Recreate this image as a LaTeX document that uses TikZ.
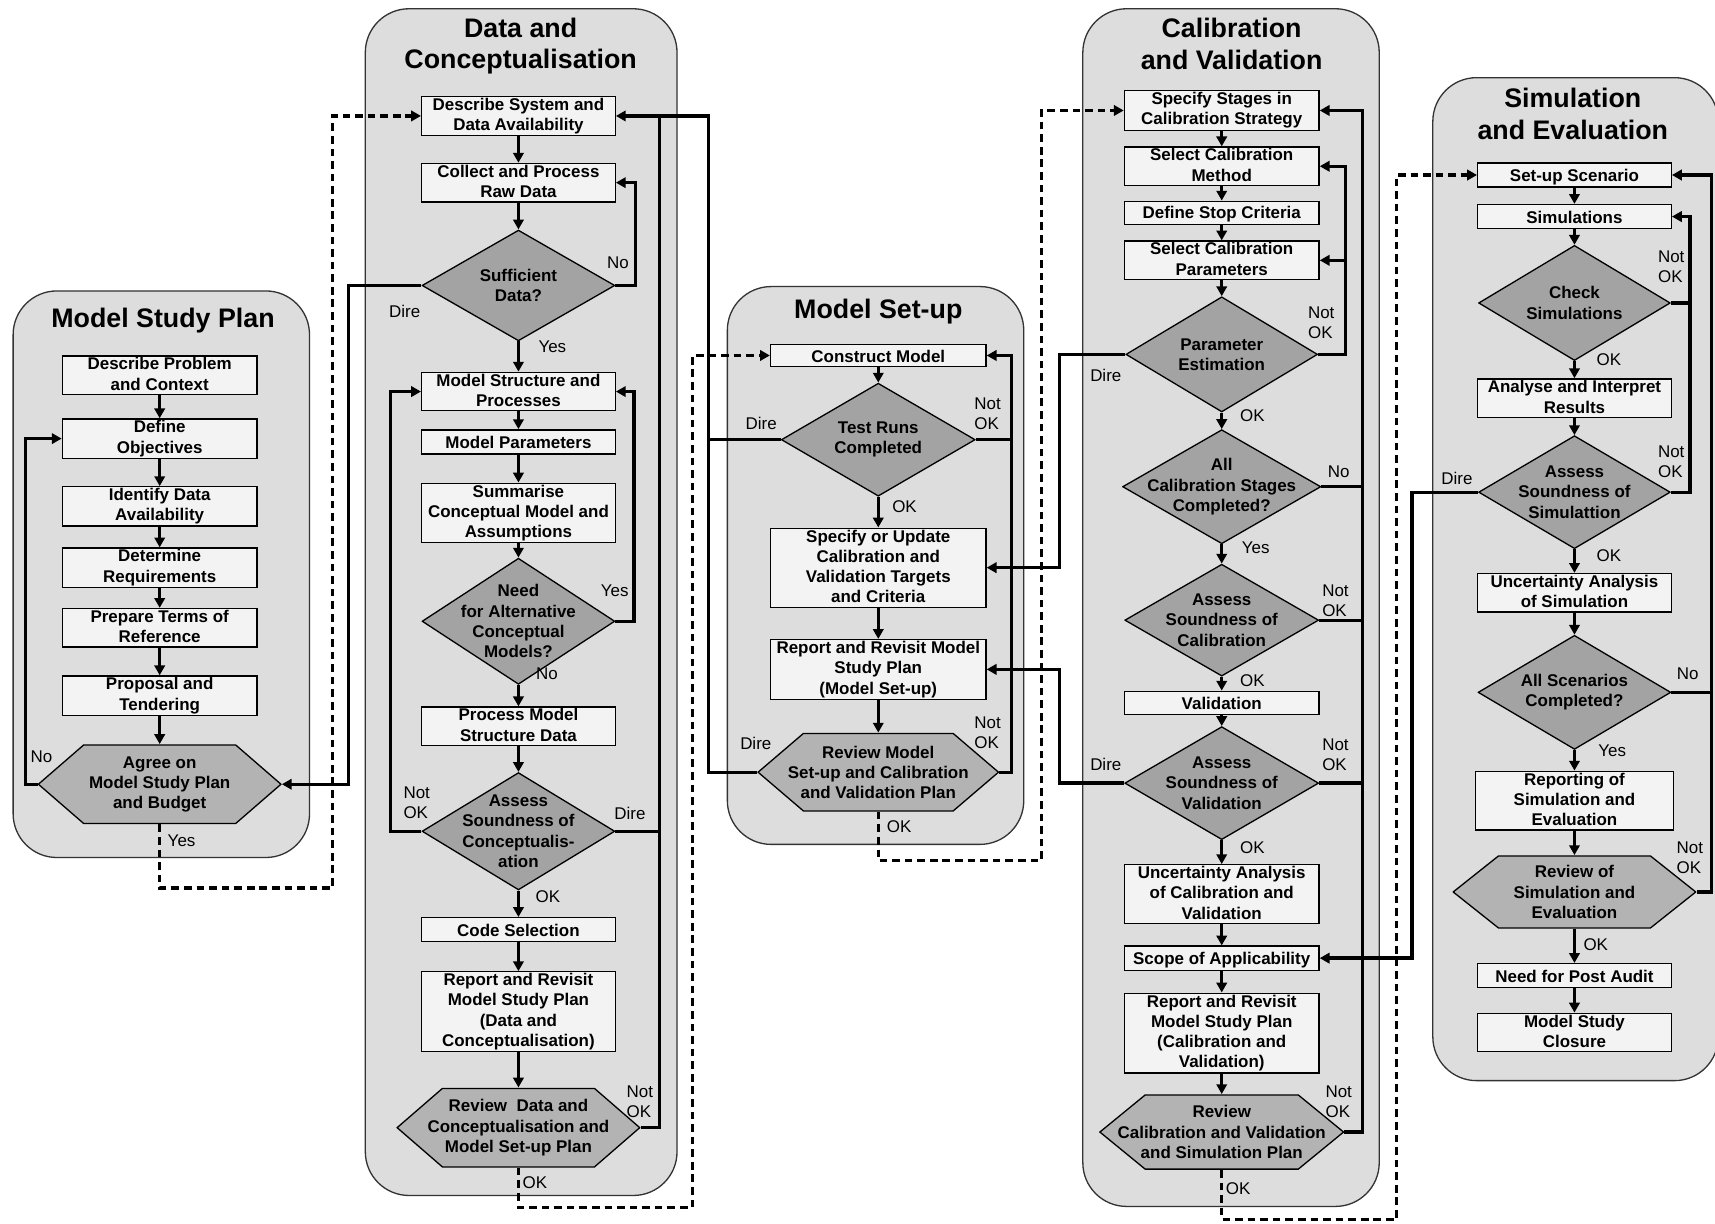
\documentclass[tikz,border=0pt]{standalone}
\usepackage{fontspec}
\setmainfont{Liberation Sans}
\usepackage{tikz}
\usetikzlibrary{arrows.meta,calc}
\usepackage{xcolor}
\definecolor{panelgray}{HTML}{DDDDDD}
\definecolor{boxgray}{HTML}{F3F3F3}
\definecolor{diagray}{HTML}{A3A3A3}
\definecolor{hexgray}{HTML}{B3B3B3}
\definecolor{edgegray}{HTML}{333333}
\newcommand{\boxfont}{\fontsize{15.5}{18.5}\selectfont\bfseries}
\newcommand{\lblfont}{\fontsize{15.5}{18}\selectfont}
\newcommand{\titlefont}{\fontsize{24.5}{29}\selectfont\bfseries}
\newcommand{\topstrut}{\rule{0pt}{14.5pt}}
\newcommand{\botstrut}{\rule[-2.5pt]{0pt}{2.5pt}}

\begin{document}
\begin{tikzpicture}[x=1pt, y=-1pt, >={Triangle[length=9pt,width=9.5pt]},
  panel/.style={draw=edgegray, line width=1.2pt, fill=panelgray, rounded corners=40pt},
  title/.style={font=\titlefont, align=center, inner sep=0pt},
  box/.style={draw, line width=1.2pt, fill=boxgray, minimum width=178pt, minimum height=22pt,
    inner xsep=2pt, inner ysep=1.5pt, align=center, font=\boxfont,
    execute at begin node=\topstrut, execute at end node=\botstrut},
  decision/.style={rectangle, minimum width=178pt, minimum height=104pt, inner sep=0pt,
    align=center, font=\boxfont,
    path picture={\draw[fill=diagray, line width=1.2pt]
      ([yshift=-0.6pt]path picture bounding box.north) -- ([xshift=-0.6pt]path picture bounding box.east)
      -- ([yshift=0.6pt]path picture bounding box.south) -- ([xshift=0.6pt]path picture bounding box.west) -- cycle;}},
  review/.style={rectangle, minimum width=223pt, minimum height=72pt, inner sep=0pt,
    align=center, font=\boxfont,
    path picture={\draw[fill=hexgray, line width=1.2pt]
      ([xshift=0.6pt]path picture bounding box.west)
      -- ([xshift=42pt,yshift=-0.6pt]path picture bounding box.north west)
      -- ([xshift=-42pt,yshift=-0.6pt]path picture bounding box.north east)
      -- ([xshift=-0.6pt]path picture bounding box.east)
      -- ([xshift=-42pt,yshift=0.6pt]path picture bounding box.south east)
      -- ([xshift=42pt,yshift=0.6pt]path picture bounding box.south west) -- cycle;}},
  lbl/.style={font=\lblfont, align=left, inner sep=0pt},
  conn/.style={->, line width=3pt},
  link/.style={line width=3pt},
  pass/.style={->, line width=3pt, dash pattern=on 7pt off 4.5pt}]

  \useasboundingbox (0,0) rectangle (1568,1119);

  % Model Study Plan
  \draw[panel] (12,266) rectangle (283,784);
  \node[title] (t-plan) at (149,293) {Model Study Plan};
  \node[box] (problem) at (146,343) {Describe Problem\\and Context};
  \node[box] (objectives) at (146,401) {Define\\Objectives};
  \node[box] (availability) at (146,463) {Identify Data\\Availability};
  \node[box] (requirements) at (146,519) {Determine\\Requirements};
  \node[box] (terms) at (146,574) {Prepare Terms of\\Reference};
  \node[box] (tendering) at (146,636) {Proposal and\\Tendering};
  \node[review, minimum height=73pt] (agree) at (146,717) {Agree on\\Model Study Plan\\and Budget};

  % Data and Conceptualisation
  \draw[panel] (334,8) rectangle (619,1093);
  \node[title] (t-data) at (476,42) {Data and\\Conceptualisation};
  \node[box, minimum width=177pt] (system) at (474,106) {Describe System and\\Data Availability};
  \node[box, minimum width=177pt] (rawdata) at (474,167) {Collect and Process\\Raw Data};
  \node[decision, minimum width=177pt, minimum height=102pt] (sufficient) at (474,261) {Sufficient\\Data?};
  \node[box, minimum width=177pt] (structure) at (474,358) {Model Structure and\\Processes};
  \node[box, minimum width=177pt] (parameters) at (474,404) {Model Parameters};
  \node[box, minimum width=177pt] (summarise) at (474,469) {Summarise\\Conceptual Model and\\Assumptions};
  \node[decision, minimum width=177pt, minimum height=116pt] (alternative) at (474,568) {Need\\for Alternative\\Conceptual\\Models?};
  \node[box, minimum width=177pt] (process) at (474,664) {Process Model\\Structure Data};
  \node[decision, minimum width=177pt, minimum height=108pt] (soundcon) at (474,760) {Assess\\Soundness of\\Conceptualis-\\ation};
  \node[box, minimum width=177pt] (code) at (474,850) {Code Selection};
  \node[box, minimum width=177pt] (report2) at (474,925) {Report and Revisit\\Model Study Plan\\(Data and\\Conceptualisation)};
  \node[review, minimum height=73pt] (review2) at (474,1031) {Review\ \ Data and\\Conceptualisation and\\Model Set-up Plan};

  % Model Set-up
  \draw[panel] (665,262) rectangle (936,772);
  \node[title] (t-setup) at (803,285) {Model Set-up};
  \node[box, minimum width=197pt, minimum height=20pt] (construct) at (803,325) {Construct Model};
  \node[decision] (testruns) at (803,402) {Test Runs\\Completed};
  \node[box, minimum width=197pt] (targets) at (803,519) {Specify or Update\\Calibration and\\Validation Targets\\and Criteria};
  \node[box, minimum width=197pt] (report3) at (803,612) {Report and Revisit Model\\Study Plan\\(Model Set-up)};
  \node[review, minimum width=221pt] (review3) at (803,706) {Review Model\\Set-up and Calibration\\and Validation Plan};

  % Calibration and Validation
  \draw[panel] (990,8) rectangle (1261,1103);
  \node[title] (t-calib) at (1126,40) {Calibration\\and Validation};
  \node[box] (stages) at (1117,101) {Specify Stages in\\Calibration Strategy};
  \node[box] (method) at (1117,152) {Select Calibration\\Method};
  \node[box, minimum height=21pt] (stopcrit) at (1117,194.5) {Define Stop Criteria};
  \node[box] (calpar) at (1117,238) {Select Calibration\\Parameters};
  \node[decision, minimum width=176pt, minimum height=106pt] (estimation) at (1117,324) {Parameter\\Estimation};
  \node[decision, minimum width=182pt, minimum height=105pt] (allstages) at (1117,445) {All\\Calibration Stages\\Completed?};
  \node[decision, minimum height=103pt] (soundcal) at (1117,567) {Assess\\Soundness of\\Calibration};
  \node[box, minimum height=21pt] (validation) at (1117,642.5) {Validation};
  \node[decision, minimum height=104pt] (soundval) at (1117,716) {Assess\\Soundness of\\Validation};
  \node[box] (uncval) at (1117,817.5) {Uncertainty Analysis\\of Calibration and\\Validation};
  \node[box] (scope) at (1117,876) {Scope of Applicability};
  \node[box] (report4) at (1117,944.5) {Report and Revisit\\Model Study Plan\\(Calibration and\\Validation)};
  \node[review, minimum width=224pt, minimum height=69pt] (review4) at (1117,1035) {Review\\Calibration and Validation\\and Simulation Plan};

  % Simulation and Evaluation
  \draw[panel] (1310,71) rectangle (1571,988);
  \node[title] (t-sim) at (1438,104) {Simulation\\and Evaluation};
  \node[box, minimum width=177pt] (setup) at (1439.5,160) {Set-up Scenario};
  \node[box, minimum width=177pt] (simulations) at (1439.5,198) {Simulations};
  \node[decision, minimum width=176pt, minimum height=106pt] (check) at (1439.5,277) {Check\\Simulations};
  \node[box, minimum width=177pt] (analyse) at (1439.5,364) {Analyse and Interpret\\Results};
  \node[decision, minimum width=176pt] (soundsim) at (1439.5,450) {Assess\\Soundness of\\Simulattion};
  \node[box, minimum width=177pt] (uncsim) at (1439.5,542) {Uncertainty Analysis\\of Simulation};
  \node[decision, minimum width=177pt, minimum height=105pt] (scenarios) at (1439.5,633) {All Scenarios\\Completed?};
  \node[box, minimum width=181pt] (reporting) at (1439.5,732) {Reporting of\\Simulation and\\Evaluation};
  \node[review, minimum height=67pt] (review5) at (1439.5,815.5) {Review of\\Simulation and\\Evaluation};
  \node[box, minimum width=177pt] (audit) at (1439.5,892) {Need for Post Audit};
  \node[box, minimum width=177pt] (closure) at (1439.5,944) {Model Study\\Closure};

  % rails
  \coordinate (railA) at (603,0);
  \coordinate (railB) at (648,0);
  \coordinate (railC) at (925,0);
  \coordinate (railD) at (969,0);
  \coordinate (railE) at (1230,0);
  \coordinate (railF) at (1246,0);
  \coordinate (railG) at (1291,0);
  \coordinate (railH) at (1545,0);
  \coordinate (railI) at (1565,0);
  \coordinate (yes1) at (304,812);
  \coordinate (ok2) at (633,1104);
  \coordinate (ok3) at (952,787);
  \coordinate (ok4) at (1277,1115);

  % main flow
  \draw[conn] (problem.south) -- (objectives.north);
  \draw[conn] (objectives.south) -- (availability.north);
  \draw[conn] (availability.south) -- (requirements.north);
  \draw[conn] (requirements.south) -- (terms.north);
  \draw[conn] (terms.south) -- (tendering.north);
  \draw[conn] (tendering.south) -- (agree.north);

  \draw[conn] (system.south) -- (rawdata.north);
  \draw[conn] (rawdata.south) -- (sufficient.north);
  \draw[conn] (sufficient.south) -- (structure.north);
  \draw[conn] (structure.south) -- (parameters.north);
  \draw[conn] (parameters.south) -- (summarise.north);
  \draw[conn] (summarise.south) -- (alternative.north);
  \draw[conn] (alternative.south) -- (process.north);
  \draw[conn] (process.south) -- (soundcon.north);
  \draw[conn] (soundcon.south) -- (code.north);
  \draw[conn] (code.south) -- (report2.north);
  \draw[conn] (report2.south) -- (review2.north);

  \draw[conn] (construct.south) -- (testruns.north);
  \draw[conn] (testruns.south) -- (targets.north);
  \draw[conn] (targets.south) -- (report3.north);
  \draw[conn] (report3.south) -- (review3.north);

  \draw[conn] (stages.south) -- (method.north);
  \draw[conn] (method.south) -- (stopcrit.north);
  \draw[conn] (stopcrit.south) -- (calpar.north);
  \draw[conn] (calpar.south) -- (estimation.north);
  \draw[conn] (estimation.south) -- (allstages.north);
  \draw[conn] (allstages.south) -- (soundcal.north);
  \draw[conn] (soundcal.south) -- (validation.north);
  \draw[conn] (validation.south) -- (soundval.north);
  \draw[conn] (soundval.south) -- (uncval.north);
  \draw[conn] (uncval.south) -- (scope.north);
  \draw[conn] (scope.south) -- (report4.north);
  \draw[conn] (report4.south) -- (review4.north);

  \draw[conn] (setup.south) -- (simulations.north);
  \draw[conn] (simulations.south) -- (check.north);
  \draw[conn] (check.south) -- (analyse.north);
  \draw[conn] (analyse.south) -- (soundsim.north);
  \draw[conn] (soundsim.south) -- (uncsim.north);
  \draw[conn] (uncsim.south) -- (scenarios.north);
  \draw[conn] (scenarios.south) -- (reporting.north);
  \draw[conn] (reporting.south) -- (review5.north);
  \draw[conn] (review5.south) -- (audit.north);
  \draw[conn] (audit.south) -- (closure.north);

  % loops
  \draw[conn] (agree.west) -- ++(-11,0) |- (objectives.west);
  \draw[pass] (agree.south) |- (yes1) |- (system.west);
  \draw[conn] (sufficient.west) -- ++(-67,0) |- (agree.east);

  \draw[conn] (sufficient.east) -- ++(18,0) |- (rawdata.east);
  \draw[conn] (alternative.east) -- ++(17,0) |- (structure.east);
  \draw[conn] (soundcon.west) -- ++(-28,0) |- (structure.west);
  \draw[link] (soundcon.east) -- (soundcon.east -| railA);
  \draw[link] (review2.east) -| (railA |- system.east);
  \draw[conn] (testruns.west) -| (railB |- system.east) -- (system.east);
  \draw[link] (review3.west) -| (railB |- testruns.west);
  \draw[pass] (review2.south) |- (ok2) |- (construct.west);

  \draw[conn] (testruns.east) -| (railC |- construct.east) -- (construct.east);
  \draw[link] (review3.east) -| (railC |- testruns.east);
  \draw[pass] (review3.south) |- (ok3) |- (stages.west);
  \draw[conn] (estimation.west) -| (railD |- targets.east) -- (targets.east);
  \draw[conn] (soundval.west) -| (railD |- report3.east) -- (report3.east);

  \draw[conn] (estimation.east) -| (railE |- method.east) -- (method.east);
  \draw[conn] (railE |- calpar.east) -- (calpar.east);
  \draw[conn] (allstages.east) -| (railF |- stages.east) -- (stages.east);
  \draw[link] (soundcal.east) -- (soundcal.east -| railF);
  \draw[link] (soundval.east) -- (soundval.east -| railF);
  \draw[link] (review4.east) -| (railF |- allstages.east);
  \draw[pass] (review4.south) |- (ok4) |- (setup.west);
  \draw[conn] (soundsim.west) -| (railG |- scope.east) -- (scope.east);

  \draw[conn] (check.east) -| (railH |- simulations.east) -- (simulations.east);
  \draw[link] (soundsim.east) -| (railH |- check.east);
  \draw[conn] (review5.east) -| (railI |- setup.east) -- (setup.east);
  \draw[link] (scenarios.east) -- (scenarios.east -| railI);

  % labels
  \node[lbl] (l-agree-no) at (38,692) {No};
  \node[lbl] (l-agree-yes) at (166,769) {Yes};
  \node[lbl] (l-suff-dire) at (370,285) {Dire};
  \node[lbl] (l-suff-no) at (565,240) {No};
  \node[lbl] (l-suff-yes) at (505,317) {Yes};
  \node[lbl] (l-alt-yes) at (562,540) {Yes};
  \node[lbl] (l-alt-no) at (500,616) {No};
  \node[lbl] (l-con-not) at (381,734) {Not\\OK};
  \node[lbl] (l-con-dire) at (576,744) {Dire};
  \node[lbl] (l-con-ok) at (501,820) {OK};
  \node[lbl] (l-rev2-not) at (585,1007) {Not\\OK};
  \node[lbl] (l-rev2-ok) at (489,1081) {OK};
  \node[lbl] (l-test-dire) at (696,387) {Dire};
  \node[lbl] (l-test-not) at (903,378) {Not\\OK};
  \node[lbl] (l-test-ok) at (827,463) {OK};
  \node[lbl] (l-rev3-dire) at (691,680) {Dire};
  \node[lbl] (l-rev3-not) at (903,670) {Not\\OK};
  \node[lbl] (l-rev3-ok) at (822,756) {OK};
  \node[lbl] (l-est-dire) at (1011,343) {Dire};
  \node[lbl] (l-est-not) at (1208,295) {Not\\OK};
  \node[lbl] (l-est-ok) at (1145,380) {OK};
  \node[lbl] (l-all-no) at (1224,431) {No};
  \node[lbl] (l-all-yes) at (1148,501) {Yes};
  \node[lbl] (l-cal-not) at (1221,549) {Not\\OK};
  \node[lbl] (l-cal-ok) at (1145,622) {OK};
  \node[lbl] (l-val-dire) at (1011,699) {Dire};
  \node[lbl] (l-val-not) at (1221,690) {Not\\OK};
  \node[lbl] (l-val-ok) at (1145,775) {OK};
  \node[lbl] (l-rev4-not) at (1224,1007) {Not\\OK};
  \node[lbl] (l-rev4-ok) at (1132,1087) {OK};
  \node[lbl] (l-chk-not) at (1528,244) {Not\\OK};
  \node[lbl] (l-chk-ok) at (1471,329) {OK};
  \node[lbl] (l-sim-dire) at (1332,437) {Dire};
  \node[lbl] (l-sim-not) at (1528,422) {Not\\OK};
  \node[lbl] (l-sim-ok) at (1471,508) {OK};
  \node[lbl] (l-scn-no) at (1543,616) {No};
  \node[lbl] (l-scn-yes) at (1474,686) {Yes};
  \node[lbl] (l-rev5-not) at (1545,784) {Not\\OK};
  \node[lbl] (l-rev5-ok) at (1459,864) {OK};
\end{tikzpicture}
\end{document}
